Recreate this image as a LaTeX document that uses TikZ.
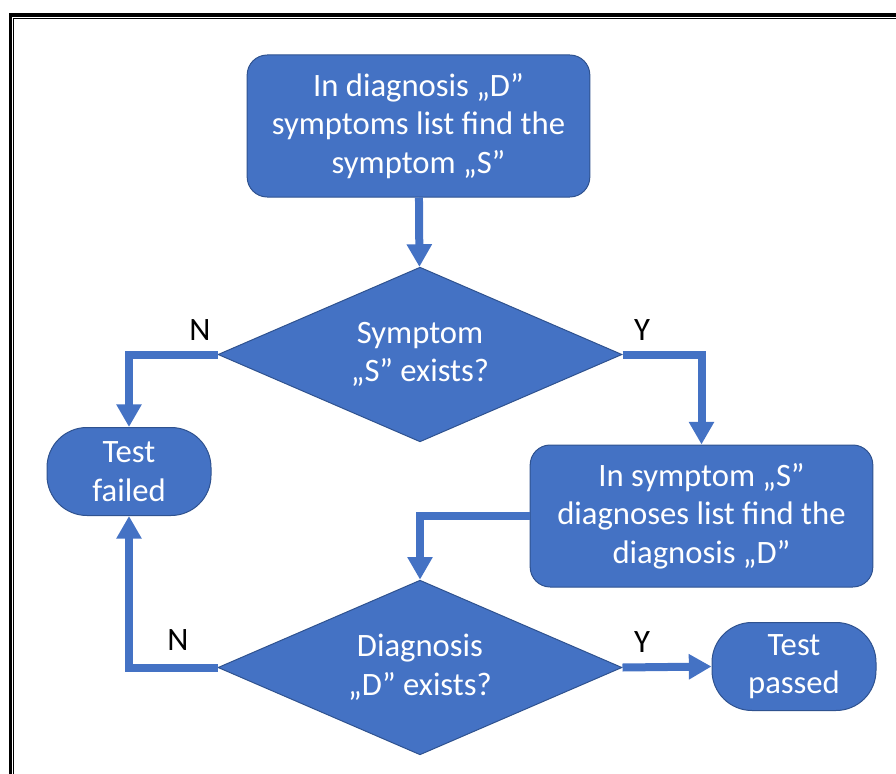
\documentclass[tikz,border=0pt]{standalone}
\usepackage{fontspec}
\setmainfont{Carlito}
\usepackage{tikz}
\usetikzlibrary{shapes.geometric,arrows.meta}
\definecolor{boxFill}{RGB}{68,114,196}
\definecolor{boxBorder}{RGB}{47,82,143}

\begin{document}
\begin{tikzpicture}[x=0.75pt,y=-0.75pt,
  blk/.style={draw=boxBorder,line width=0.75pt,fill=boxFill,text=white,align=center,font=\fontsize{24.5}{29}\selectfont,inner sep=0pt},
  procbox/.style={blk,rectangle,rounded corners=15pt,minimum width=257pt,minimum height=106.5pt},
  decbox/.style={blk,diamond,aspect=2.3,minimum width=303pt,minimum height=131pt},
  termbox/.style={blk,rectangle,rounded corners=30pt,minimum width=123pt,minimum height=66pt},
  flow/.style={draw=boxFill,line width=6pt,-{Triangle[width=18pt,length=17pt]}},
  yn/.style={font=\fontsize{24.5}{29}\selectfont,inner sep=0pt}]
\useasboundingbox (0,0) rectangle (896,774);
\draw[line width=2.6pt] (10.5,774) -- (10.5,15) -- (896,15);
\draw[line width=0.75pt] (13.5,774) -- (13.5,18.5) -- (896,18.5);

\node[procbox] (findS) at (418.5,126) {In diagnosis „D”\\symptoms list find the\\symptom „S”};
\node[decbox] (existS) at (420,354.5) {Symptom\\„S” exists?};
\node[termbox] (failed) at (129,471.5) {Test\\failed};
\node[procbox] (findD) at (701.5,516) {In symptom „S”\\diagnoses list find the\\diagnosis „D”};
\node[decbox] (existD) at (420,667.5) {Diagnosis\\„D” exists?};
\node[termbox] (passed) at (794,666.5) {Test\\passed};

\draw[flow] (findS) -- (existS);
\draw[flow] (existS.west) -| (failed.north);
\draw[flow] (existS.east) -| (findD.north);
\draw[flow] (findD.west) -| (existD.north);
\draw[flow] (existD.west) -| (failed.south);
\draw[flow] (existD.east) -- (passed.west);

\node[yn] (noS) at (200,330) {N};
\node[yn] (yesS) at (642,330) {Y};
\node[yn] (noD) at (178,640) {N};
\node[yn] (yesD) at (642,642) {Y};
\end{tikzpicture}
\end{document}
